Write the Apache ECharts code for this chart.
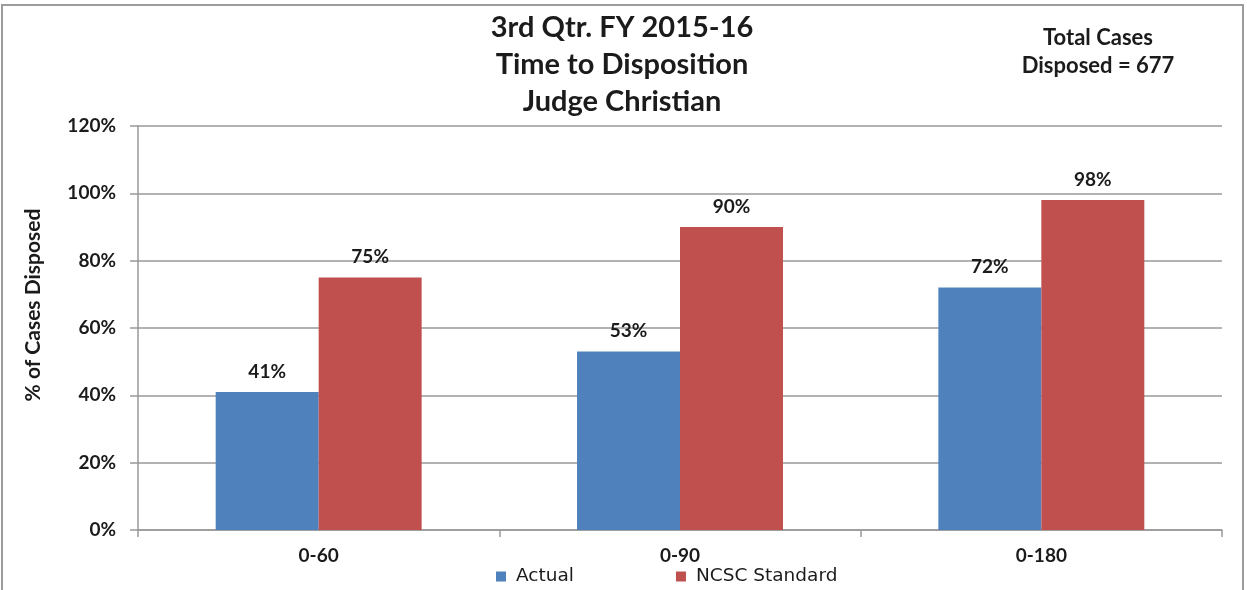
<!DOCTYPE html>
<html>
<head>
<meta charset="utf-8">
<script src="https://cdn.jsdelivr.net/npm/echarts@6/dist/echarts.min.js"></script>
<style>
  html, body { margin: 0; padding: 0; background: #fff; }
  #main { width: 1247px; height: 590px; }
</style>
</head>
<body>
<div id="main"></div>
<script>
// categories and values
const categories = ['0-60', '0-90', '0-180'];
const actual = [41, 53, 72];
const ncscStandard = [75, 90, 98];
const yTicks = [0, 20, 40, 60, 80, 100, 120];

const font = 'Lato, "Open Sans", sans-serif';
const textColor = '#1b1b1b';

const chartDom = document.getElementById('main');
const myChart = echarts.init(chartDom);

const option = {
    animation: false,
    textStyle: { fontFamily: font },
    title: [
        {
            text: '3rd Qtr. FY 2015-16\nTime to Disposition\nJudge Christian',
            left: 617,
            top: 4,
            textAlign: 'center',
            textStyle: { fontFamily: font, fontSize: 29, fontWeight: 'bold', color: textColor, lineHeight: 37 }
        },
        {
            text: 'Total Cases\nDisposed = 677',
            left: 1093,
            top: 19,
            textAlign: 'center',
            textStyle: { fontFamily: font, fontSize: 22, fontWeight: 'bold', color: textColor, lineHeight: 28 }
        }
    ],
    graphic: [
        {
            type: 'rect',
            shape: { x: 2, y: 5, width: 1241, height: 620 },
            style: { fill: 'none', stroke: '#9c9c9c', lineWidth: 2 },
            silent: true
        },
        {
            // y axis title, sits a bit above the middle of the axis like the original
            type: 'text',
            x: 33,
            y: 305,
            rotation: Math.PI / 2,
            style: {
                text: '% of Cases Disposed',
                align: 'center',
                verticalAlign: 'middle',
                font: 'bold 21px Lato, "Open Sans", sans-serif',
                fill: textColor
            },
            silent: true
        }
    ],
    legend: {
        left: 496,
        top: 567,
        padding: 0,
        itemWidth: 10,
        itemHeight: 10,
        itemGap: 102,
        icon: 'rect',
        textStyle: { fontFamily: '"DejaVu Sans", sans-serif', fontSize: 18.5, color: textColor, padding: [0, 0, 0, 5] },
        data: ['Actual', 'NCSC Standard']
    },
    grid: { left: 138, right: 25, top: 126, bottom: 60 },
    xAxis: {
        type: 'category',
        data: categories,
        axisLine: { lineStyle: { color: '#999', width: 1.5 } },
        axisTick: { show: true, length: 7, lineStyle: { color: '#999', width: 1.5 } },
        axisLabel: { fontFamily: font, fontSize: 19, fontWeight: 'bold', color: textColor, margin: 16 }
    },
    yAxis: {
        type: 'value',
        min: 0,
        max: 120,
        interval: 20,
        axisLine: { show: true, lineStyle: { color: '#999', width: 1.5 } },
        axisTick: { show: true, length: 8, lineStyle: { color: '#999', width: 1.5 } },
        splitLine: { lineStyle: { color: '#999', width: 1.5 } },
        axisLabel: {
            fontFamily: font, fontSize: 19, fontWeight: 'bold', color: textColor, margin: 22,
            formatter: v => yTicks.includes(v) ? v + '%' : ''
        }
    },
    series: [
        {
            name: 'Actual',
            type: 'bar',
            data: actual,
            barGap: '0%',
            barCategoryGap: '43%',
            itemStyle: { color: '#4F81BD' },
            label: {
                show: true, position: 'top', distance: 11, formatter: '{c}%',
                fontFamily: font, fontSize: 19, fontWeight: 'bold', color: textColor
            }
        },
        {
            name: 'NCSC Standard',
            type: 'bar',
            data: ncscStandard,
            itemStyle: { color: '#C0504D' },
            label: {
                show: true, position: 'top', distance: 11, formatter: '{c}%',
                fontFamily: font, fontSize: 19, fontWeight: 'bold', color: textColor
            }
        }
    ]
};

option && myChart.setOption(option);
</script>
</body>
</html>
